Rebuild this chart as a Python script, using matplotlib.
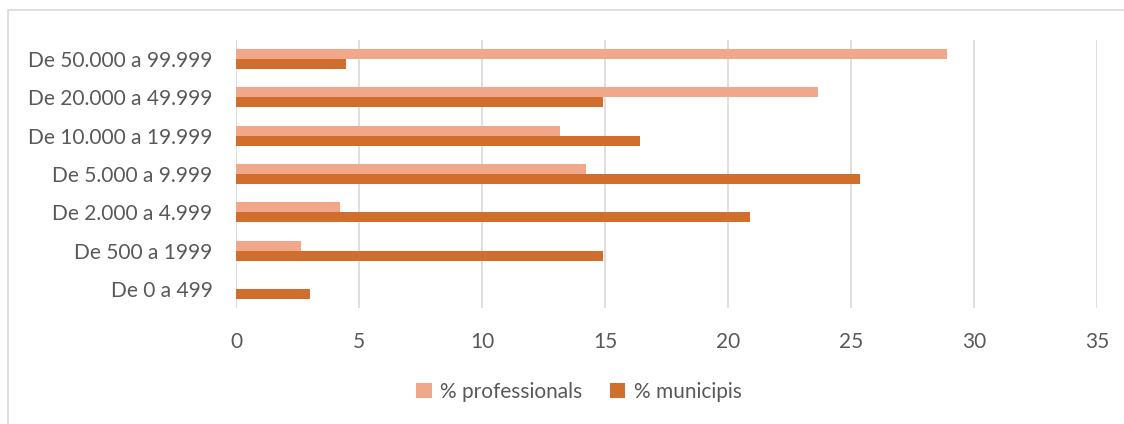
import numpy as np
import matplotlib.pyplot as plt
from matplotlib.patches import Rectangle

# dades per tram de població (de baix a dalt)
trams = ['De 0 a 499', 'De 500 a 1999', 'De 2.000 a 4.999', 'De 5.000 a 9.999',
         'De 10.000 a 19.999', 'De 20.000 a 49.999', 'De 50.000 a 99.999']
pct_professionals = [0.0, 2.64, 4.21, 14.21, 13.16, 23.66, 28.92]
pct_municipis = [2.99, 14.92, 20.89, 25.35, 16.41, 14.92, 4.47]

color_prof = '#F1A88A'
color_mun = '#D16E2E'
text_color = '#595959'

plt.rcParams['font.family'] = ['Lato', 'DejaVu Sans']

fig = plt.figure(figsize=(11.24, 4.24), dpi=100)
# marc de l'àrea del gràfic
fig.patches.append(Rectangle((8 / 1124, -0.1), 1.2, 1 - 10 / 424 + 0.1,
                             transform=fig.transFigure, fill=False,
                             edgecolor='#D9D9D9', linewidth=1.2))

ax = fig.add_axes([236 / 1124, 1 - 308 / 424, (1097 - 236) / 1124, (308 - 40) / 424])

y = np.arange(len(trams))
h = 0.26
ax.barh(y + h / 2, pct_professionals, height=h, color=color_prof, label='% professionals')
ax.barh(y - h / 2, pct_municipis, height=h, color=color_mun, label='% municipis')

ax.set_xlim(0, 35)
ax.set_ylim(-0.5, len(trams) - 0.5)
ax.set_xticks(range(0, 36, 5))
ax.set_yticks(y)
ax.set_yticklabels(trams)

ax.grid(axis='x', color='#D9D9D9', linewidth=1.2)
ax.set_axisbelow(True)
for s in ax.spines.values():
    s.set_visible(False)
ax.tick_params(axis='both', length=0, labelsize=15, labelcolor=text_color)
ax.tick_params(axis='x', pad=17)
ax.tick_params(axis='y', pad=17)

fig.legend(loc='center', bbox_to_anchor=(579 / 1124, 1 - 392 / 424), ncol=2,
           frameon=False, fontsize=15, labelcolor=text_color,
           handlelength=0.75, handleheight=0.75, handletextpad=0.4, columnspacing=1.3)

fig.savefig('out.png', dpi=100)
